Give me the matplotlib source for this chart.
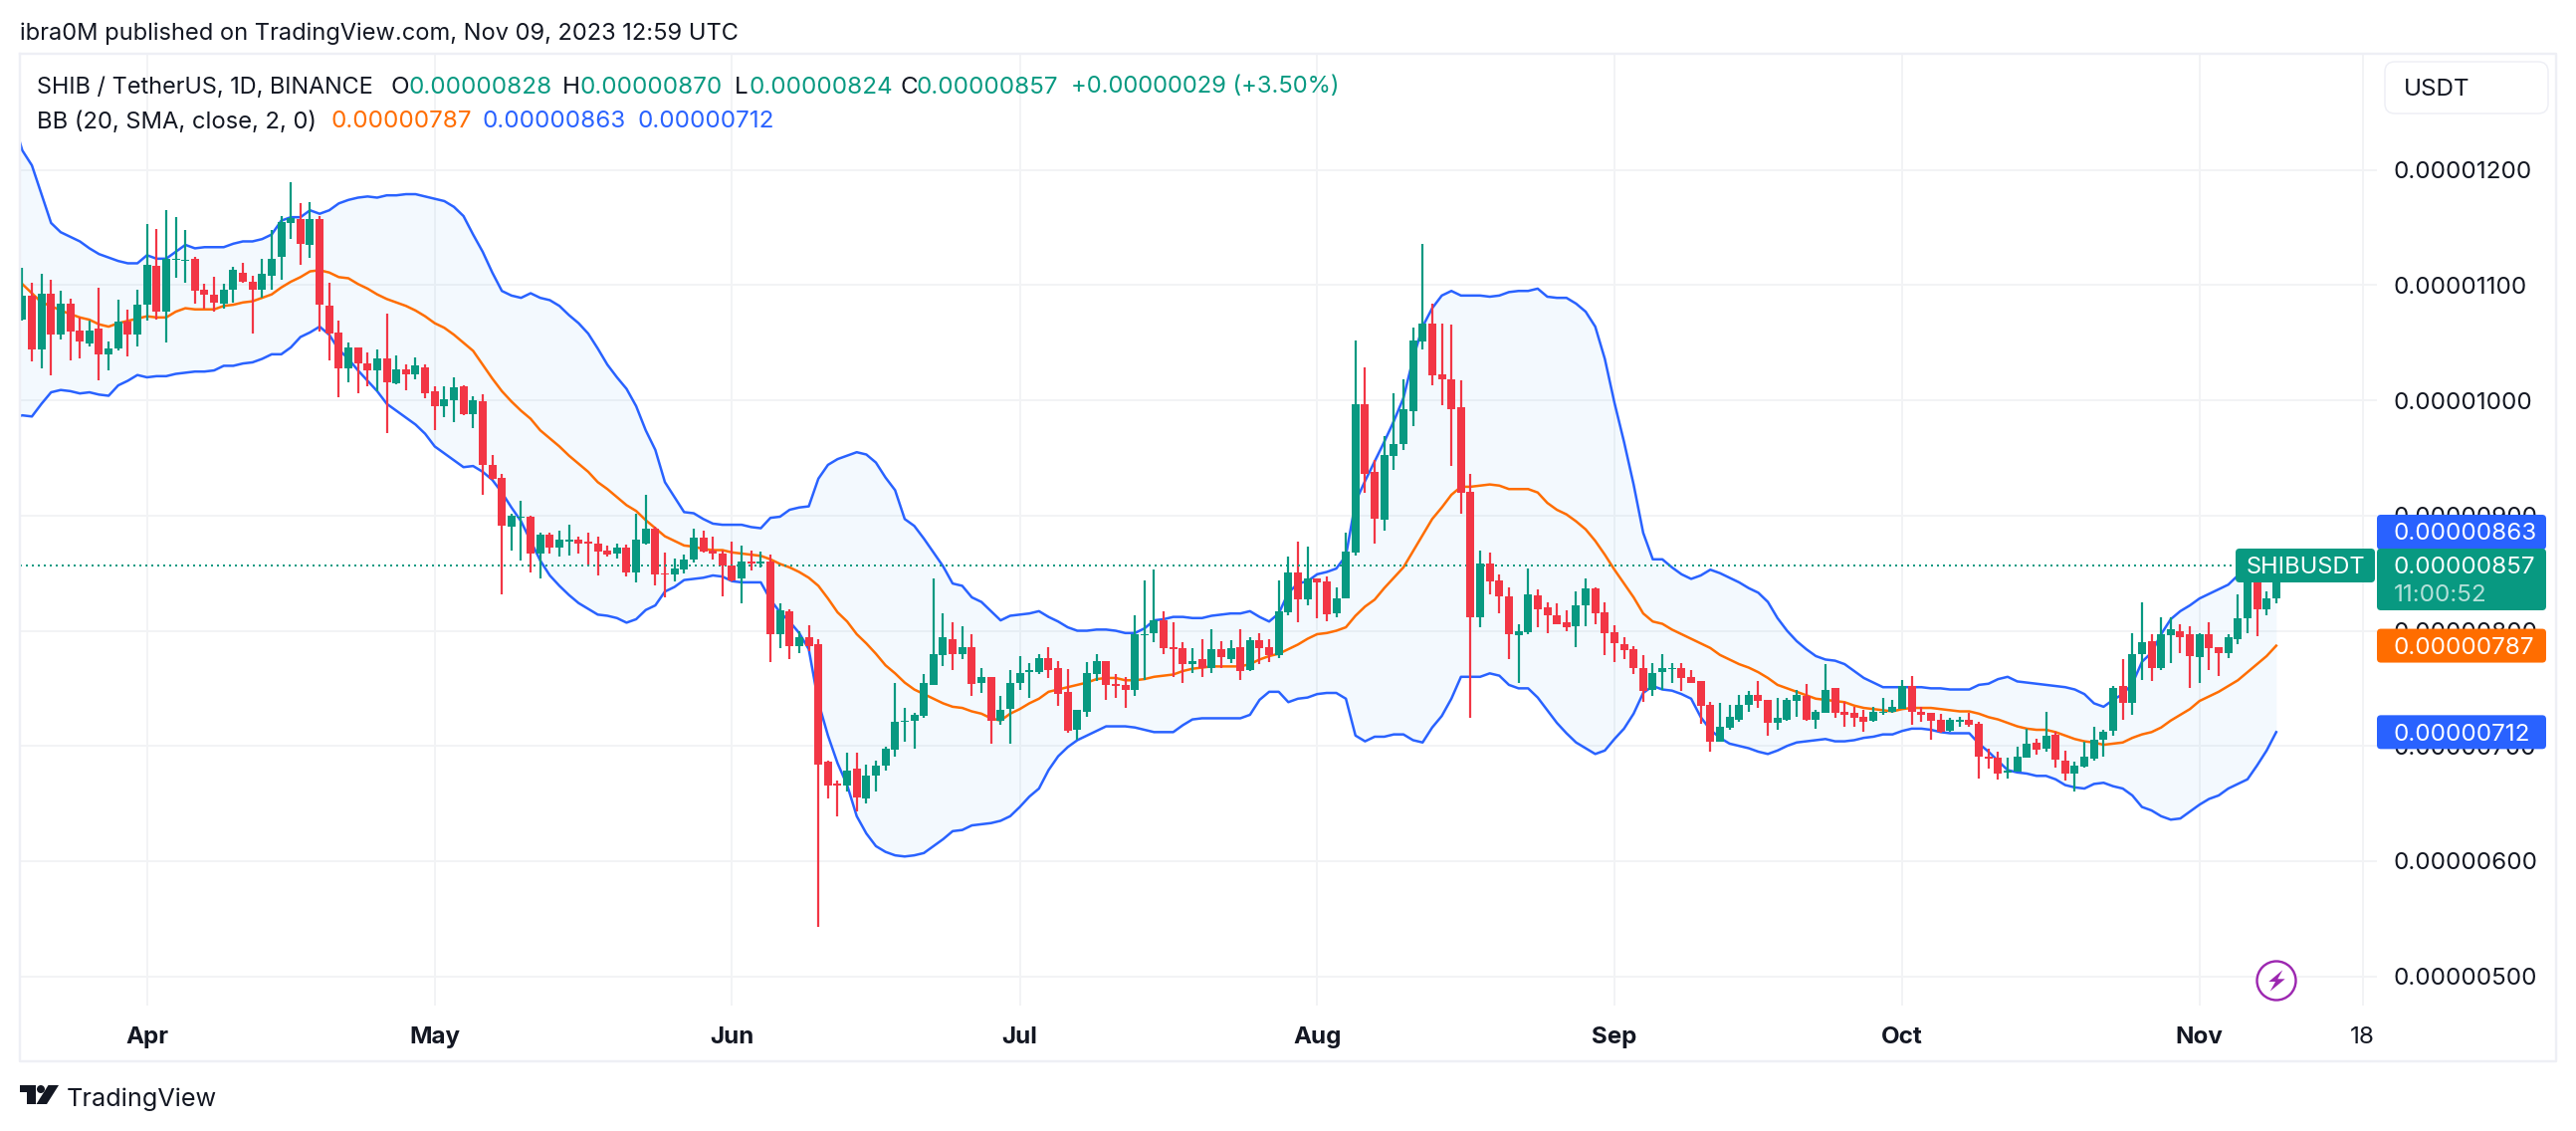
import numpy as np
import matplotlib
matplotlib.use('Agg')
import matplotlib.pyplot as plt
from matplotlib.patches import Circle, FancyBboxPatch, Polygon

# prices are in units of 0.00000001 USDT, days count from Apr 1 2023
first_day = -13
band_first_day = -14

opens = [1070, 1091, 1044, 1093, 1057, 1084, 1061, 1049, 1062, 1040, 1045, 1068, 1057,
         1083, 1117, 1077, 1122, 1121, 1123, 1096, 1092, 1084, 1096, 1111, 1103, 1096, 1108, 1125, 1154, 1157, 1135,
         1157, 1082, 1059, 1028, 1046, 1032, 1026, 1036, 1015, 1027, 1023, 1029, 1008, 995, 1000, 1012, 988, 999, 944,
         933, 890, 898, 899, 867, 883, 872, 877, 879, 877, 876, 870, 867, 872, 851, 876, 889, 850, 849, 853,
         862, 881, 870, 867, 857, 845, 860, 858, 860, 797, 817, 787, 794, 788, 686, 667, 666, 680, 654, 674, 683,
         697, 721, 722, 726, 753, 779, 793, 780, 786, 755, 760, 722, 732, 755, 764, 764, 776, 768, 747, 714,
         730, 762, 774, 754, 753, 749, 796, 798, 809, 786, 785, 771, 775, 768, 784, 775, 786, 766, 792, 786,
         779, 816, 851, 827, 845, 843, 815, 828, 868, 997, 938, 896, 952, 962, 991, 1051, 1067, 1023, 1018, 994,
         921, 812, 858, 844, 830, 796, 799, 831, 820, 813, 807, 804, 822, 837, 816, 799, 788, 784, 768, 749,
         764, 767, 768, 760, 756, 736, 704, 716, 723, 736, 744, 740, 720, 723, 739, 743, 723, 729, 750, 730,
         729, 725, 722, 729, 730, 732, 752, 730, 729, 723, 713, 721, 723, 719, 691, 690, 677, 678, 690, 703,
         698, 710, 687, 676, 682, 689, 705, 713, 752, 737, 780, 791, 768, 796, 800, 797, 777, 797, 786, 781,
         793, 811, 850, 819, 828]
highs = [1115, 1102, 1110, 1105, 1095, 1088, 1072, 1069, 1098, 1051, 1087, 1079, 1096,
         1153, 1149, 1165, 1159, 1148, 1125, 1101, 1107, 1101, 1116, 1119, 1108, 1123, 1148, 1160, 1189, 1171, 1172,
         1160, 1102, 1069, 1050, 1046, 1042, 1044, 1075, 1039, 1031, 1037, 1031, 1012, 1012, 1020, 1013, 1004, 1005, 953,
         936, 902, 913, 900, 885, 885, 887, 892, 882, 885, 882, 874, 876, 875, 902, 918, 890, 868, 863, 866,
         889, 887, 882, 870, 877, 874, 870, 869, 866, 824, 819, 800, 805, 793, 687, 670, 694, 694, 684, 687, 699,
         755, 733, 729, 762, 845, 815, 807, 804, 797, 768, 760, 743, 766, 778, 772, 780, 786, 774, 767, 731,
         773, 780, 774, 762, 760, 813, 844, 853, 817, 807, 790, 785, 793, 801, 791, 792, 801, 794, 798, 793,
         844, 864, 877, 873, 845, 847, 838, 885, 1052, 1029, 948, 969, 1006, 1018, 1063, 1136, 1084, 1067, 1066, 1017,
         936, 870, 868, 849, 838, 806, 854, 836, 825, 824, 818, 834, 845, 838, 825, 805, 794, 787, 779, 772,
         780, 772, 772, 766, 756, 738, 737, 736, 744, 748, 756, 740, 742, 742, 749, 754, 731, 771, 750, 738,
         734, 731, 734, 742, 740, 757, 761, 734, 729, 728, 724, 725, 729, 721, 698, 695, 690, 699, 715, 706,
         730, 712, 696, 686, 704, 717, 714, 752, 775, 798, 825, 797, 812, 812, 806, 804, 798, 807, 786, 797,
         832, 868, 860, 834, 870]
lows = [1069, 1034, 1028, 1022, 1053, 1035, 1036, 1047, 1017, 1026, 1043, 1038, 1047,
        1069, 1070, 1050, 1106, 1102, 1084, 1080, 1077, 1080, 1085, 1102, 1058, 1089, 1096, 1105, 1140, 1118, 1124,
        1060, 1035, 1003, 1016, 1006, 1012, 1008, 972, 1014, 1009, 1018, 1002, 974, 985, 981, 987, 976, 918, 931,
        832, 870, 861, 851, 845, 867, 864, 865, 867, 857, 848, 864, 863, 847, 842, 875, 839, 829, 843, 850,
        859, 868, 862, 830, 843, 824, 852, 855, 773, 785, 775, 781, 782, 543, 654, 639, 660, 643, 650, 660, 679,
        691, 704, 698, 724, 753, 769, 766, 775, 743, 746, 702, 718, 702, 749, 742, 762, 759, 735, 711, 705,
        725, 756, 740, 742, 733, 743, 757, 790, 780, 760, 755, 763, 760, 763, 768, 772, 757, 765, 771, 773,
        776, 813, 807, 822, 811, 808, 812, 828, 865, 920, 876, 887, 940, 957, 978, 1044, 1013, 996, 943, 902,
        724, 803, 832, 815, 775, 755, 797, 803, 798, 806, 800, 786, 804, 806, 779, 773, 775, 762, 738, 743,
        749, 755, 748, 755, 719, 695, 704, 714, 721, 730, 733, 709, 714, 722, 725, 722, 715, 729, 724, 717,
        717, 712, 721, 727, 729, 732, 718, 721, 705, 711, 712, 717, 717, 672, 680, 671, 672, 678, 690, 692,
        695, 681, 670, 660, 681, 687, 691, 709, 723, 727, 757, 756, 766, 772, 781, 750, 755, 766, 761, 776,
        788, 798, 795, 813, 824]
closes = [1091, 1044, 1093, 1057, 1084, 1060, 1051, 1061, 1040, 1045, 1068, 1057, 1083,
          1118, 1077, 1123, 1123, 1122, 1095, 1092, 1085, 1096, 1113, 1103, 1096, 1110, 1123, 1155, 1158, 1136, 1157,
          1083, 1058, 1028, 1046, 1032, 1026, 1036, 1016, 1027, 1023, 1030, 1006, 995, 1001, 1011, 988, 1000, 944, 932,
          891, 900, 899, 867, 883, 872, 879, 879, 876, 876, 869, 866, 872, 851, 879, 889, 849, 849, 854, 862,
          881, 869, 867, 857, 844, 860, 858, 860, 797, 818, 787, 794, 787, 684, 666, 666, 679, 655, 674, 683, 698,
          721, 722, 727, 755, 780, 794, 780, 786, 754, 760, 722, 731, 755, 763, 766, 776, 766, 745, 713, 731,
          763, 774, 753, 752, 749, 797, 797, 809, 785, 784, 771, 774, 768, 784, 777, 785, 765, 792, 785, 779,
          817, 851, 827, 845, 842, 814, 828, 869, 997, 936, 897, 953, 962, 992, 1052, 1067, 1022, 1018, 992, 920,
          812, 858, 843, 830, 797, 800, 832, 819, 813, 806, 803, 822, 837, 815, 798, 789, 783, 768, 748, 763,
          768, 768, 759, 755, 735, 704, 717, 725, 736, 744, 739, 720, 724, 740, 744, 723, 730, 749, 729, 727,
          724, 721, 730, 730, 734, 752, 730, 727, 722, 712, 723, 723, 718, 691, 689, 676, 679, 691, 702, 697,
          709, 688, 676, 683, 691, 705, 712, 750, 737, 780, 790, 768, 797, 801, 794, 778, 797, 785, 781, 794,
          811, 850, 819, 828, 857]

bb_upper = [1245, 1217, 1204, 1179, 1154, 1146, 1142, 1138, 1132, 1127, 1124, 1121, 1119, 1119,
            1126, 1123, 1123, 1129, 1135, 1132, 1133, 1133, 1133, 1136, 1138, 1138, 1140, 1144, 1156, 1159, 1159,
            1165, 1162, 1165, 1171, 1174, 1176, 1177, 1176, 1178, 1178, 1179, 1179, 1177, 1175, 1173, 1168, 1160, 1144, 1129,
            1111, 1095, 1091, 1089, 1093, 1089, 1087, 1082, 1074, 1067, 1058, 1045, 1031, 1020, 1010, 995, 974, 957, 929, 916,
            903, 902, 897, 893, 892, 892, 892, 890, 889, 898, 899, 905, 907, 908, 932, 944, 949, 952, 955, 953, 946,
            933, 922, 897, 891, 880, 868, 856, 841, 839, 829, 825, 817, 809, 813, 814, 815, 817, 812, 808, 803,
            800, 800, 801, 801, 800, 798, 798, 802, 809, 810, 812, 812, 811, 811, 813, 814, 815, 815, 817, 812,
            808, 815, 833, 841, 843, 849, 851, 854, 865, 912, 930, 947, 964, 982, 1002, 1036, 1064, 1080, 1091, 1095,
            1091, 1091, 1091, 1090, 1091, 1094, 1095, 1095, 1097, 1090, 1089, 1089, 1084, 1077, 1064, 1036, 998, 964, 927, 885,
            862, 862, 855, 849, 845, 848, 853, 850, 846, 842, 837, 833, 825, 811, 800, 791, 784, 778, 775, 774,
            771, 765, 759, 755, 751, 751, 751, 751, 751, 750, 750, 749, 749, 749, 753, 754, 758, 760, 756, 755,
            754, 753, 752, 751, 749, 745, 737, 734, 740, 745, 754, 773, 781, 797, 810, 817, 822, 828, 832, 836,
            840, 848, 852, 855, 859, 863]
bb_basis = [1110, 1101, 1093, 1085, 1082, 1078, 1075, 1072, 1070, 1066, 1064, 1067, 1069, 1071,
            1073, 1072, 1072, 1077, 1080, 1079, 1079, 1079, 1082, 1083, 1085, 1086, 1089, 1092, 1098, 1103, 1107,
            1112, 1113, 1111, 1107, 1106, 1101, 1097, 1092, 1088, 1085, 1082, 1078, 1073, 1067, 1063, 1057, 1050, 1043, 1031,
            1019, 1008, 999, 991, 984, 974, 967, 960, 952, 945, 938, 929, 923, 916, 909, 904, 896, 889, 882, 878,
            874, 873, 871, 870, 870, 868, 867, 866, 865, 862, 858, 855, 851, 846, 839, 828, 816, 808, 797, 789, 780,
            770, 763, 755, 749, 745, 741, 737, 734, 733, 730, 728, 724, 722, 728, 732, 737, 741, 747, 749, 751,
            753, 755, 758, 759, 759, 757, 757, 758, 760, 761, 762, 765, 767, 768, 769, 769, 769, 769, 771, 775,
            778, 780, 784, 788, 793, 797, 798, 800, 803, 813, 821, 827, 837, 846, 855, 869, 883, 897, 907, 918,
            925, 925, 926, 927, 926, 923, 923, 923, 920, 911, 905, 901, 895, 888, 878, 866, 853, 841, 829, 815,
            808, 806, 801, 797, 793, 789, 785, 779, 775, 771, 768, 764, 759, 753, 750, 747, 744, 741, 740, 739,
            738, 735, 733, 732, 731, 730, 732, 733, 733, 733, 732, 731, 730, 730, 728, 725, 723, 720, 717, 715,
            714, 714, 712, 709, 706, 704, 703, 701, 702, 703, 707, 710, 712, 716, 722, 727, 732, 739, 743, 747,
            752, 757, 764, 771, 778, 787]
bb_lower = [985, 987, 986, 997, 1007, 1009, 1008, 1006, 1007, 1005, 1004, 1013, 1017, 1022,
            1020, 1021, 1021, 1023, 1024, 1025, 1025, 1026, 1030, 1030, 1032, 1033, 1036, 1040, 1040, 1046, 1055,
            1059, 1064, 1057, 1044, 1036, 1026, 1017, 1008, 997, 991, 985, 979, 971, 960, 954, 948, 942, 943, 938,
            931, 920, 907, 895, 878, 861, 848, 839, 831, 824, 819, 814, 813, 811, 807, 810, 818, 822, 834, 838,
            844, 845, 846, 848, 847, 843, 842, 842, 842, 827, 816, 808, 798, 784, 738, 709, 685, 666, 639, 624, 613,
            608, 605, 604, 605, 607, 613, 619, 626, 627, 631, 632, 633, 635, 639, 647, 656, 663, 679, 691, 699,
            705, 709, 713, 717, 717, 717, 716, 714, 712, 712, 712, 718, 723, 724, 724, 724, 724, 724, 727, 740, 747,
            747, 738, 741, 742, 745, 746, 746, 741, 709, 704, 708, 708, 710, 710, 705, 703, 716, 726, 741, 760,
            760, 760, 763, 761, 753, 750, 750, 742, 731, 720, 711, 703, 698, 693, 696, 706, 715, 728, 746, 752,
            749, 748, 745, 741, 725, 714, 707, 702, 700, 698, 695, 693, 696, 700, 703, 704, 705, 706, 704, 704,
            705, 707, 708, 710, 710, 713, 715, 715, 714, 712, 711, 711, 711, 702, 695, 687, 679, 677, 676, 674,
            674, 671, 666, 664, 663, 667, 668, 665, 663, 657, 647, 644, 639, 636, 637, 643, 649, 654, 657, 663,
            667, 671, 683, 696, 712]

last_price = 857
price_ticks = [500, 600, 700, 800, 900, 1000, 1100, 1200]
time_ticks = [0, 30, 61, 91, 122, 153, 183, 214, 231]
time_labels = ['Apr', 'May', 'Jun', 'Jul', 'Aug', 'Sep', 'Oct', 'Nov', '18']

GREEN = '#089981'
RED = '#F23645'
BLUE = '#2962FF'
ORANGE = '#FF6D00'
TEXT = '#131722'
GRID = '#F2F3F5'
PX = 0.72  # one pixel in points at dpi 100

plt.rcParams['font.family'] = ['Inter', 'DejaVu Sans']

W, H = 2588, 1136
fig = plt.figure(figsize=(W / 100, H / 100), dpi=100, facecolor='white')
ax = fig.add_axes([20 / W, (H - 1010) / H, 2368 / W, 956 / H])
ax.set_xlim(-13.25, 232.5)
ax.set_ylim(474.6, 1300.9)
for s in ax.spines.values():
    s.set_visible(False)

days = np.arange(first_day, first_day + len(opens))
band_days = np.arange(band_first_day, band_first_day + len(bb_basis))
o, h, l, c = map(np.array, (opens, highs, lows, closes))
colors = np.where(c >= o, GREEN, RED)

# grid
ax.set_axisbelow(True)
ax.grid(True, color=GRID, lw=2 * PX)

# bollinger bands
ax.fill_between(band_days, bb_upper, bb_lower, color='#2196F3', alpha=0.05, lw=0, zorder=1)
ax.plot(band_days, bb_upper, color=BLUE, lw=2.5 * PX, zorder=2)
ax.plot(band_days, bb_lower, color=BLUE, lw=2.5 * PX, zorder=2)
ax.plot(band_days, bb_basis, color=ORANGE, lw=2.5 * PX, zorder=2)

# candles
ax.vlines(days, l, h, colors=colors, lw=2.2 * PX, zorder=3)
ax.bar(days, np.abs(c - o), bottom=np.minimum(o, c), width=0.83, color=colors, lw=0, zorder=4)

# last price line
ax.axhline(last_price, color=GREEN, lw=2 * PX, dashes=(1, 2), zorder=3)

# axes labels
ax.yaxis.tick_right()
ax.set_yticks(price_ticks)
ax.set_yticklabels([f'{v * 1e-8:.8f}' for v in price_ticks], fontsize=17.4, color=TEXT)
ax.tick_params(axis='y', length=0, pad=12)
ax.set_xticks(time_ticks)
ax.set_xticklabels(time_labels, fontsize=17.4, color=TEXT)
ax.tick_params(axis='x', length=0, pad=15)
for lab in ax.get_xticklabels()[:-1]:
    lab.set_fontweight('bold')

# overlay in pixel coordinates for frame, legend, price labels
ov = fig.add_axes([0, 0, 1, 1], zorder=5)
ov.set_xlim(0, W)
ov.set_ylim(H, 0)
ov.axis('off')


def price_px(p):
    return H - ax.transData.transform((0, p))[1]


def box(x0, x1, y0, y1, color, **kw):
    ov.add_patch(FancyBboxPatch((x0 + 3, y0 + 3), x1 - x0 - 6, y1 - y0 - 6,
                                boxstyle='round,pad=3,rounding_size=4', fc=color, ec='none', **kw))


def label(x, y, s, color=TEXT, size=17.4, **kw):
    ov.text(x, y, s, color=color, fontsize=size, va='center_baseline', **kw)


# frame
ov.plot([20, 2568, 2568, 20, 20], [54, 54, 1066, 1066, 54], color='#EEEFF5', lw=2.4 * PX)

# header
label(20, 31, 'ibra0M published on TradingView.com, Nov 09, 2023 12:59 UTC', size=17)

# legend
label(37, 85, 'SHIB / TetherUS, 1D, BINANCE', size=16.9)
for x, s, col in [(392, 'O', TEXT), (411, '0.00000828', GREEN),
                  (565, 'H', TEXT), (583, '0.00000870', GREEN), (738, 'L', TEXT), (752, '0.00000824', GREEN),
                  (905, 'C', TEXT), (921, '0.00000857', GREEN)]:
    label(x, 85, s, color=col)
label(1076, 85, '+0.00000029 (+3.50%)', color=GREEN, size=17.1)
label(37, 120, 'BB (20, SMA, close, 2, 0)', size=17.1)
for x, s, col in [(333, '0.00000787', ORANGE), (485, '0.00000863', BLUE), (640, '0.00000712', BLUE)]:
    label(x, 120, s, color=col)

# currency button
ov.add_patch(FancyBboxPatch((2404, 70), 148, 36, boxstyle='round,pad=8,rounding_size=10',
                            fc='white', ec='#EEEFF5', lw=1.5 * PX))
label(2415, 87, 'USDT')

# price labels
box(2388, 2558, 517, 552, BLUE)
label(2405, 534, '0.00000863', color='white')
box(2388, 2558, 551, 613, GREEN)
label(2405, price_px(last_price), '0.00000857', color='white')
label(2405, 596, '11:00:52', color='white', alpha=0.7)
box(2246, 2386, 551, 585, GREEN)
label(2257, price_px(last_price), 'SHIBUSDT', color='white', size=17)
for val, col in [(787, ORANGE), (712, BLUE)]:
    yc = price_px(val)
    box(2388, 2558, yc - 17, yc + 17, col)
    label(2405, yc, f'{val * 1e-8:.8f}', color='white')

# lightning icon
ov.add_patch(Circle((2287, 985), 19.5, fc='white', ec='#9C27B0', lw=2.4 * PX))
ov.add_patch(Polygon([(2293.3, 974.3), (2279.3, 986), (2286, 986), (2280.7, 995.7),
                      (2295.7, 983.3), (2288.3, 983.3)], fc='#9C27B0', ec='none'))

# logo
ov.add_patch(Polygon([(20, 1090), (35.6, 1090), (35.6, 1109), (27, 1109), (27, 1097), (20, 1097)],
                     fc=TEXT, ec='none'))
ov.add_patch(Circle((41, 1094), 4, fc=TEXT, ec='none'))
ov.add_patch(Polygon([(48.5, 1090), (59, 1090), (47, 1109), (36.5, 1109)], fc=TEXT, ec='none'))
label(67, 1102, 'TradingView', size=18.2)

fig.savefig('out.png', dpi=100)
